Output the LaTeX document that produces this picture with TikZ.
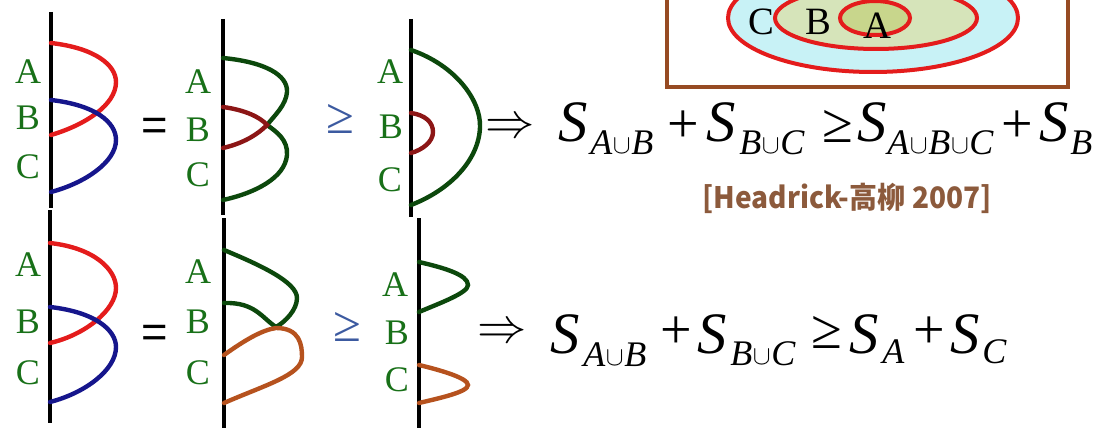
\documentclass[tikz,border=0pt]{standalone}
\usepackage{fontspec}
\setmainfont{Liberation Serif}
\newfontfamily\symf{DejaVu Serif}
\newfontfamily\sansf{Liberation Sans}
\newfontfamily\cjk{Noto Sans CJK JP}
\usepackage{graphicx}
\definecolor{cred}{RGB}{228,28,28}
\definecolor{cblue}{RGB}{22,22,140}
\definecolor{cdgreen}{RGB}{12,72,12}
\definecolor{cdred}{RGB}{140,22,22}
\definecolor{corange}{RGB}{182,82,30}
\definecolor{clab}{RGB}{24,112,24}
\definecolor{cgeq}{RGB}{60,90,160}
\definecolor{cbrown}{RGB}{150,75,35}
\definecolor{ccite}{RGB}{140,90,60}
\definecolor{fcyan}{RGB}{200,242,246}
\definecolor{fmid}{RGB}{214,228,186}
\definecolor{finner}{RGB}{200,214,140}
\tikzset{
  lbl/.style={text=clab, font=\fontsize{27}{27}\selectfont, inner sep=0pt},
  vlbl/.style={text=black, font=\fontsize{29}{29}\selectfont, inner sep=0pt},
  axis/.style={line width=2.4pt, black},
  crv/.style={line width=3.3pt, line cap=round},
  bigS/.style={font=\fontsize{44}{46}\selectfont\itshape, inner sep=0pt, anchor=base west},
  subs/.style={font=\fontsize{27}{29}\selectfont\itshape, inner sep=0pt, anchor=base west},
  opr/.style={font=\fontsize{42}{44}\selectfont, inner sep=0pt},
  arr/.style={inner sep=0pt},
  eqs/.style={font=\sansf\fontsize{34}{34}\selectfont, inner sep=0pt},
  geqs/.style={text=cgeq, font=\fontsize{38}{38}\selectfont, inner sep=0pt},
}
\newcommand{\cupx}{{\fontsize{10}{12}\selectfont\hspace{0.5pt}\raisebox{0.5pt}{\scalebox{2.0}{$\cup$}}\hspace{0.5pt}}}
\newcommand{\impl}{{\fontsize{10}{12}\selectfont\scalebox{3.7}{$\Rightarrow$}}}
\begin{document}
\begin{tikzpicture}[x=0.75pt,y=-0.75pt]
\useasboundingbox (0,0) rectangle (1107,428);
% ---------- Venn box ----------
\draw[cbrown, line width=2.4pt] (667,-10) rectangle (1068,87);
\draw[cred, line width=3pt, fill=fcyan] (873,18) ellipse [x radius=145, y radius=54];
\draw[cred, line width=3pt, fill=fmid] (876,18) ellipse [x radius=101, y radius=31];
\draw[cred, line width=3pt, fill=finner] (875,18) ellipse [x radius=35, y radius=17];
\node[vlbl] (vC) at (761,22) {C};
\node[vlbl] (vB) at (818,22) {B};
\node[vlbl] (vA) at (877,26) {A};
% ---------- top row ----------
% panel 1
\draw[axis] (51,12) -- (51,208);
\draw[crv, cred] (51,43) .. controls (95,48) and (116,65) .. (116,82) .. controls (116,105) and (85,125) .. (51,135);
\draw[crv, cblue] (51,100) .. controls (95,105) and (116,122) .. (116,140) .. controls (116,162) and (85,183) .. (51,192);
\node[lbl] (t1A) at (28,72) {A};
\node[lbl] (t1B) at (28,118) {B};
\node[lbl] (t1C) at (28,167) {C};
\node[eqs] (teq) at (155,129) {=};
% panel 2
\draw[axis] (223,19) -- (223,215);
\draw[crv, cdgreen] (223,58) .. controls (265,62) and (288,75) .. (287,92) .. controls (286,105) and (275,115) .. (267,125) .. controls (277,132) and (288,140) .. (287,155) .. controls (285,178) and (255,193) .. (223,200);
\draw[crv, cdred] (223,107) .. controls (245,110) and (260,117) .. (267,125) .. controls (255,137) and (240,144) .. (223,148);
\node[lbl] (t2A) at (198,82) {A};
\node[lbl] (t2B) at (198,130) {B};
\node[lbl] (t2C) at (198,175) {C};
\node[geqs] (tgeq) at (340,119) {≥};
% panel 3
\draw[axis] (411,19) -- (411,217);
\draw[crv, cdgreen] (411,50) .. controls (455,65) and (481,100) .. (480,127) .. controls (479,160) and (450,190) .. (411,205);
\draw[crv, cdred] (411,113) .. controls (425,115) and (433,122) .. (433,132) .. controls (433,142) and (422,150) .. (411,153);
\node[lbl] (t3A) at (390,72) {A};
\node[lbl] (t3B) at (391,127) {B};
\node[lbl] (t3C) at (390,180) {C};
% formula top
\node[arr] (timp) at (510,128) {\impl};
\node[bigS] (tS1) at (558,142) {S};
\node[subs] (ts1) at (590,154) {A\cupx B};
\node[opr] (tp1) at (683,127) {+};
\node[bigS] (tS2) at (706,142) {S};
\node[subs] (ts2) at (739,154) {B\cupx C};
\node[opr] (tge) at (838,126) {≥};
\node[bigS] (tS3) at (857,142) {S};
\node[subs] (ts3) at (887,154) {A\cupx B\cupx C};
\node[opr] (tp2) at (1017,127) {+};
\node[bigS] (tS4) at (1039,142) {S};
\node[subs] (ts4) at (1070,154) {B};
\node[text=ccite, inner sep=0pt] (cite) at (847,198) {\resizebox{217pt}{19pt}{\cjk\bfseries [Headrick-高柳 2007]}};
% ---------- bottom row ----------
% panel 1
\draw[axis] (50,210) -- (50,423);
\draw[crv, cred] (50,243) .. controls (95,248) and (116,270) .. (116,288) .. controls (116,310) and (85,335) .. (50,343);
\draw[crv, cblue] (50,307) .. controls (95,312) and (116,330) .. (116,347) .. controls (116,370) and (85,393) .. (50,402);
\node[lbl] (b1A) at (28,265) {A};
\node[lbl] (b1B) at (28,322) {B};
\node[lbl] (b1C) at (28,373) {C};
\node[eqs] (beq) at (155,336) {=};
% panel 2
\draw[axis] (224,218) -- (224,428);
\draw[crv, cdgreen] (224,250) .. controls (260,265) and (297,282) .. (297,298) .. controls (297,310) and (285,322) .. (276,327) .. controls (262,318) and (255,302) .. (224,303);
\draw[crv, corange] (224,355) .. controls (245,340) and (262,330) .. (276,328) .. controls (300,328) and (302,345) .. (302,357) .. controls (302,375) and (265,385) .. (224,403);
\node[lbl] (b2A) at (198,272) {A};
\node[lbl] (b2B) at (198,322) {B};
\node[lbl] (b2C) at (198,373) {C};
\node[geqs] (bgeq) at (347,327) {≥};
% panel 3
\draw[axis] (419,218) -- (419,428);
\draw[crv, cdgreen] (419,262) .. controls (445,268) and (468,275) .. (468,285) .. controls (468,293) and (440,303) .. (419,312);
\draw[crv, corange] (419,365) .. controls (440,370) and (468,378) .. (468,385) .. controls (468,392) and (440,398) .. (419,403);
\node[lbl] (b3A) at (395,285) {A};
\node[lbl] (b3B) at (397,333) {B};
\node[lbl] (b3C) at (397,380) {C};
% formula bottom
\node[arr] (bimp) at (502,333) {\impl};
\node[bigS] (bS1) at (550,353) {S};
\node[subs] (bs1) at (583,366) {A\cupx B};
\node[opr] (bp1) at (676,333) {+};
\node[bigS] (bS2) at (697,353) {S};
\node[subs] (bs2) at (730,365) {B\cupx C};
\node[opr] (bge) at (827,332) {≥};
\node[bigS] (bS3) at (849,353) {S};
\node[subs] (bs3) at (882,363) {A};
\node[opr] (bp2) at (929,333) {+};
\node[bigS] (bS4) at (950,353) {S};
\node[subs] (bs4) at (982,363) {C};
\end{tikzpicture}
\end{document}
